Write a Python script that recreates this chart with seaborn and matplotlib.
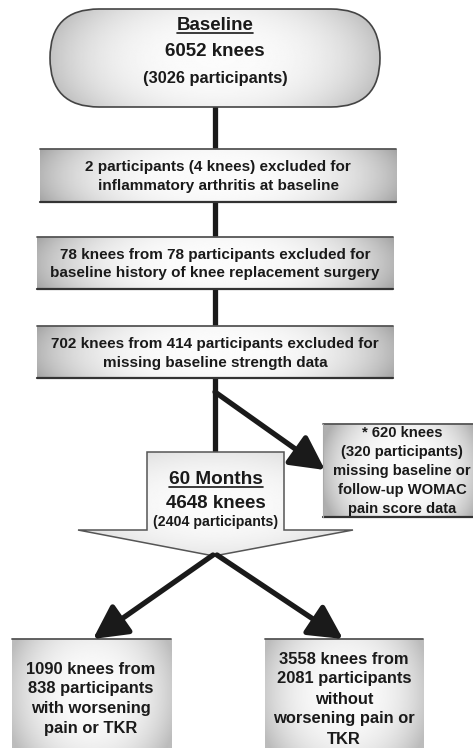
import numpy as np
import matplotlib.pyplot as plt
import matplotlib.patches as mpatches
import seaborn as sns

# flow counts
baseline_knees = 6052
baseline_participants = 3026
excluded_text = [
    ["2 participants (4 knees) excluded for", "inflammatory arthritis at baseline"],
    ["78 knees from 78 participants excluded for", "baseline history of knee replacement surgery"],
    ["702 knees from 414 participants excluded for", "missing baseline strength data"],
]
missing_text = ["* 620 knees", "(320 participants)", "missing baseline or",
                "follow-up WOMAC", "pain score data"]
followup_knees = 4648
followup_participants = 2404
outcome_text = [
    ["1090 knees from", "838 participants", "with worsening", "pain or TKR"],
    ["3558 knees from", "2081 participants", "without", "worsening pain or", "TKR"],
]

sns.set_theme(style="white")
plt.rcParams["font.family"] = ["Liberation Sans", "DejaVu Sans"]
plt.rcParams["font.weight"] = "bold"

W, H = 473, 756
fig = plt.figure(figsize=(W / 100, H / 100), dpi=100)
ax = fig.add_axes([0, 0, 1, 1])
ax.set_xlim(0, W)
ax.set_ylim(H, 0)
ax.axis("off")

TXT = "#1a1a1a"
EDGE = "#444444"


def shade(patch, x0, x1, y0, y1, kx=0.85, ky=0.15, depth=0.35, p=1.6):
    ax.add_patch(patch)
    X, Y = np.meshgrid(np.linspace(-1, 1, 300), np.linspace(-1, 1, 150))
    r2 = np.clip(kx * X ** 2 + ky * Y ** 2, 0, 1)
    Z = 0.985 - depth * r2 ** p
    im = ax.imshow(Z, cmap="gray", vmin=0, vmax=1, extent=(x0, x1, y1, y0),
                   aspect="auto", interpolation="bilinear", zorder=1)
    im.set_clip_path(patch)


def box(x0, x1, y0, y1, bottom=True, **kw):
    p = mpatches.Rectangle((x0, y0), x1 - x0, y1 - y0, facecolor="none",
                           edgecolor="none", zorder=1)
    shade(p, x0, x1, y0, y1, **kw)
    ax.plot([x0, x1], [y0, y0], color="#555555", lw=1.3, zorder=3)
    if bottom:
        ax.plot([x0, x1], [y1, y1], color="#333333", lw=1.6, zorder=3)


def lines(x, ys, texts, size):
    out = []
    for y, t in zip(ys, texts):
        out.append(ax.text(x, y, t, ha="center", va="center", fontsize=size,
                           fontweight="bold", color=TXT, zorder=5))
    return out


def underline(t, dy):
    fig.canvas.draw()
    bb = t.get_window_extent().transformed(ax.transData.inverted())
    ax.plot([bb.x0, bb.x1], [bb.y0 + dy, bb.y0 + dy], color=TXT, lw=1.2, zorder=5)


def arrow(p0, p1):
    a = mpatches.FancyArrowPatch(p0, p1, arrowstyle="-|>,head_length=1.15,head_width=0.6",
                                 mutation_scale=18, lw=3.8, color="#1a1a1a",
                                 shrinkA=0, shrinkB=0, zorder=4)
    ax.add_patch(a)


# connectors
ax.plot([215, 215], [105, 150], color="#1a1a1a", lw=3.8, zorder=0)
ax.plot([215, 215], [200, 238], color="#1a1a1a", lw=3.8, zorder=0)
ax.plot([215, 215], [288, 327], color="#1a1a1a", lw=3.8, zorder=0)
ax.plot([215, 215], [377, 454], color="#1a1a1a", lw=3.8, zorder=0)
arrow((215, 392), (325, 470))
arrow((213, 555), (93, 639))
arrow((217, 555), (343, 639))

# baseline pill
pill = mpatches.FancyBboxPatch((50, 9), 330, 98, boxstyle="round,pad=0,rounding_size=49",
                               facecolor="none", edgecolor="none", zorder=1)
shade(pill, 50, 380, 9, 107, kx=0.9, ky=0.3, depth=0.25, p=1.4)
ax.add_patch(mpatches.FancyBboxPatch((50, 9), 330, 98, boxstyle="round,pad=0,rounding_size=49",
                                     facecolor="none", edgecolor=EDGE, lw=1.2, zorder=3))
t = lines(215, [26], ["Baseline"], 13.5)[0]
lines(215, [52], [f"{baseline_knees} knees"], 13.5)
lines(215, [78], [f"({baseline_participants} participants)"], 11.8)
underline(t, -2)

# exclusion boxes
box(40, 396, 149, 202)
lines(218, [167, 186], excluded_text[0], 11)
box(37, 393, 237, 289)
lines(215, [255, 273], excluded_text[1], 11)
box(37, 393, 326, 378)
lines(215, [344, 363], excluded_text[2], 11)

# missing data box
box(323, 480, 424, 517, kx=0.9, ky=0.3, depth=0.3)
ax.plot([323, 323], [424, 517], color="#aaaaaa", lw=0.8, zorder=3)
lines(402, [433, 452, 471, 490, 509], missing_text, 10.6)

# 60 months arrow shape
pts = [(147, 452), (284, 452), (284, 530), (353, 530), (214, 556), (78, 530), (147, 530)]
shape = mpatches.Polygon(pts, closed=True, facecolor="none", edgecolor="none", zorder=1)
shade(shape, 78, 353, 452, 556, kx=0.6, ky=0.5, depth=0.18, p=1.2)
ax.add_patch(mpatches.Polygon(pts, closed=True, facecolor="none", edgecolor="#555555",
                              lw=1.1, zorder=3))
t = lines(216, [480], ["60 Months"], 13.7)[0]
lines(216, [503], [f"{followup_knees} knees"], 13.5)
lines(216, [522], [f"({followup_participants} participants)"], 10.2)
underline(t, -2)

# outcome boxes
box(12, 171, 639, 748, bottom=False, kx=0.8, ky=0.3, depth=0.25, p=1.3)
lines(91, [669, 689, 709, 729], outcome_text[0], 11.9)
box(265, 423, 639, 748, bottom=False, kx=0.8, ky=0.3, depth=0.25, p=1.3)
lines(344, [659, 679, 699, 719, 739], outcome_text[1], 11.9)

plt.savefig("out.png", dpi=100)
